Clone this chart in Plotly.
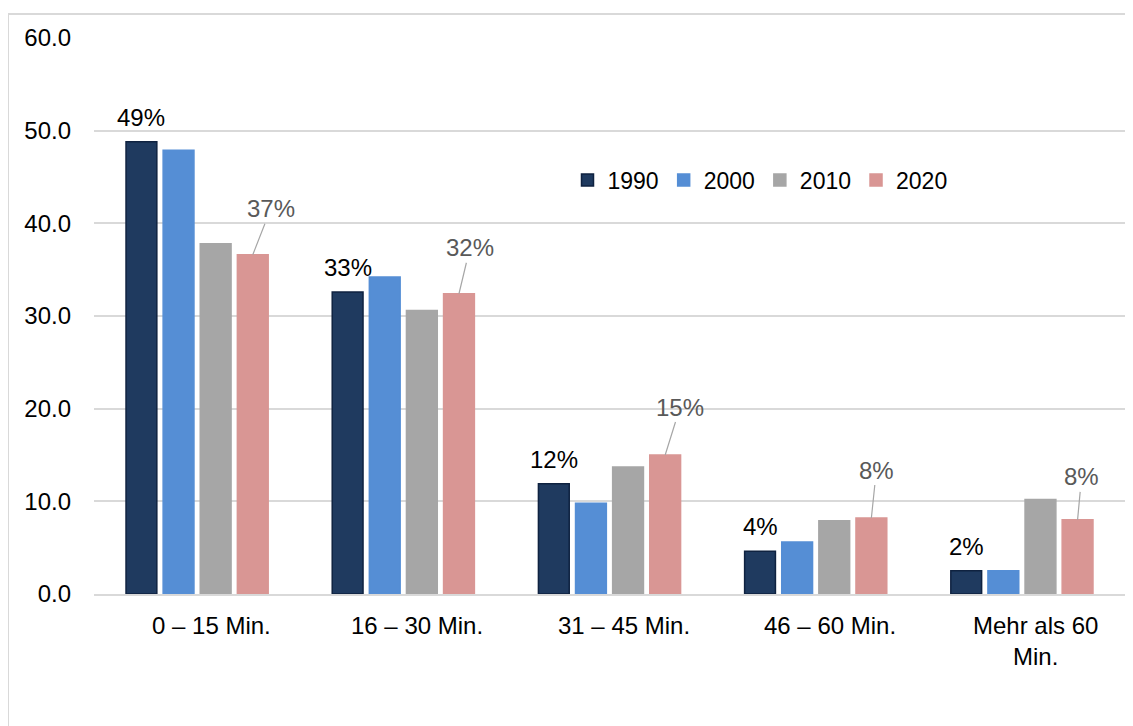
import plotly.graph_objects as go

categories = ["0 – 15 Min.", "16 – 30 Min.", "31 – 45 Min.", "46 – 60 Min.", "Mehr als 60<br>Min."]
years = ["1990", "2000", "2010", "2020"]
v1990 = [48.8, 32.6, 11.9, 4.6, 2.5]
v2000 = [47.9, 34.2, 9.8, 5.6, 2.5]
v2010 = [37.8, 30.6, 13.7, 7.9, 10.2]
v2020 = [36.6, 32.4, 15.0, 8.2, 8.0]
labels1990 = ["49%", "33%", "12%", "4%", "2%"]
labels2020 = ["37%", "32%", "15%", "8%", "8%"]
yticks = [0, 10, 20, 30, 40, 50, 60]

colors = ["#1f3a5f", "#558ed5", "#a6a6a6", "#d99694"]
series = [v1990, v2000, v2010, v2020]
FONT = "Liberation Sans, Arial, sans-serif"
FS = 24

# figure geometry (page has an 8px body margin)
W, H = 1125, 718
L, R, T, B = 86, 8, 30, 132
PW, PH = W - L - R, H - T - B

bargap = 0.28
bargroupgap = 0.17
n = len(years)
slot = (1 - bargap) / n
offsets = [(-(n - 1) / 2 + k) * slot for k in range(n)]
xs = list(range(len(categories)))

fig = go.Figure()
for i, (yr, vals) in enumerate(zip(years, series)):
    fig.add_trace(go.Bar(
        name=yr, x=xs, y=vals,
        marker=dict(color=colors[i],
                    line=dict(color="#0f2240" if yr == "1990" else colors[i], width=1.5))))

# labels above 1990 bars
for j, (v, lab) in enumerate(zip(v1990, labels1990)):
    fig.add_annotation(x=j + offsets[0], y=v, xref="x", yref="y", text=lab,
                       showarrow=False, yanchor="bottom", yshift=9,
                       font=dict(size=FS, color="#000000", family=FONT))

# leader-line labels for 2020
ax_off = [18, 11, 15, 5, 4]
ay_off = [-46, -46, -48, -48, -43]
for j, (v, lab) in enumerate(zip(v2020, labels2020)):
    fig.add_annotation(x=j + offsets[3], y=v, xref="x", yref="y", text=lab,
                       showarrow=True, arrowhead=0, arrowwidth=1.2, arrowcolor="#a6a6a6",
                       ax=ax_off[j], ay=ay_off[j], standoff=0,
                       font=dict(size=FS, color="#595959", family=FONT))

# category labels (slightly right of group centre, as in the original)
for j, cat in enumerate(categories):
    fig.add_annotation(x=j, y=0, xref="x", yref="paper", text=cat, showarrow=False,
                       yanchor="top", xanchor="center", xshift=14, yshift=-16,
                       align="center", font=dict(size=FS, color="#000000", family=FONT))

# outer frame lines (top and left)
x_left = (0 - L) / PW
y_top = (H - B - 6) / PH
y_bot = (-B) / PH
x_right = (W - L) / PW
fig.add_shape(type="line", xref="paper", yref="paper", x0=x_left, x1=x_right, y0=y_top, y1=y_top,
              line=dict(color="#d9d9d9", width=2))
fig.add_shape(type="line", xref="paper", yref="paper", x0=x_left, x1=x_left, y0=y_top, y1=y_bot,
              line=dict(color="#d9d9d9", width=2))

fig.update_layout(
    width=W, height=H,
    margin=dict(l=L, r=R, t=T, b=B),
    paper_bgcolor="white", plot_bgcolor="white",
    barmode="group", bargap=bargap, bargroupgap=bargroupgap,
    font=dict(family=FONT, size=FS, color="#000000"),
    legend=dict(orientation="h", x=(760 - 8 - L) / PW, y=(H - B - (180 - 8)) / PH,
                xanchor="center", yanchor="middle",
                font=dict(size=FS - 1, family=FONT, color="#000000"), itemwidth=30,
                bgcolor="rgba(0,0,0,0)", traceorder="normal"),
    showlegend=True,
)
fig.update_yaxes(range=[0, 60], tickvals=yticks, tickformat=".1f", showgrid=True,
                 gridcolor="#d9d9d9", gridwidth=1.5, zeroline=False, showline=False,
                 ticks="", ticklabelstandoff=22, tickfont=dict(size=FS, family=FONT, color="#000000"))
fig.update_xaxes(tickvals=xs, showticklabels=False,
                 range=[-0.5, len(categories) - 0.5], showgrid=False, zeroline=False,
                 showline=True, linecolor="#d9d9d9", linewidth=2, ticks="")

fig.write_html("out.html")
